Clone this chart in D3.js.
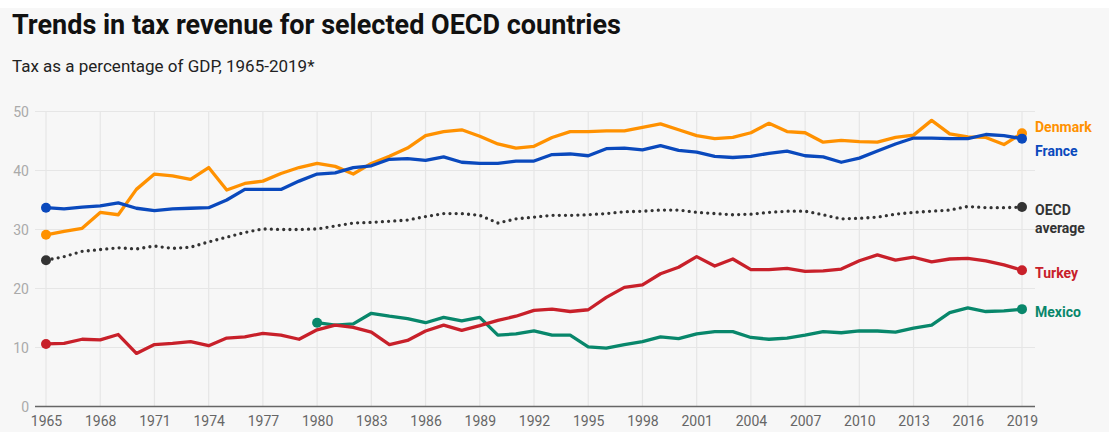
<!DOCTYPE html>
<html>
<head>
<meta charset="utf-8">
<script src="https://cdn.jsdelivr.net/npm/d3@7"></script>
<style>
  body { margin: 0; background: #f7f7f7; font-family: Roboto, "Noto Sans", sans-serif; }
  .canvas { width: 1109px; height: 432px; }
</style>
</head>
<body>
<div class="canvas"></div>
<script>
// years 1965..2019
const years = d3.range(1965, 2020);
const xTicks = d3.range(1965, 2020, 3);
const yTicks = [0, 10, 20, 30, 40, 50];

const denmark = [29.1, 29.7, 30.2, 32.9, 32.5, 36.8, 39.4, 39.1, 38.5, 40.5,
  36.7, 37.8, 38.2, 39.5, 40.5, 41.2, 40.7, 39.4, 41.2, 42.4,
  43.8, 45.9, 46.6, 46.9, 45.8, 44.5, 43.8, 44.1, 45.6, 46.6,
  46.6, 46.7, 46.7, 47.3, 47.9, 46.9, 45.9, 45.4, 45.6, 46.4,
  48.0, 46.6, 46.4, 44.8, 45.1, 44.9, 44.8, 45.6, 46.0, 48.5,
  46.2, 45.7, 45.6, 44.4, 46.3];
const france = [33.7, 33.5, 33.8, 34.0, 34.5, 33.6, 33.2, 33.5, 33.6, 33.7,
  35.0, 36.8, 36.8, 36.8, 38.2, 39.4, 39.6, 40.5, 40.8, 41.9,
  42.0, 41.7, 42.3, 41.4, 41.2, 41.2, 41.6, 41.6, 42.7, 42.8,
  42.5, 43.7, 43.8, 43.5, 44.2, 43.4, 43.1, 42.4, 42.2, 42.4,
  42.9, 43.3, 42.5, 42.3, 41.4, 42.1, 43.3, 44.5, 45.5, 45.5,
  45.4, 45.4, 46.1, 45.9, 45.4];
const oecd = [24.8, 25.4, 26.3, 26.6, 26.9, 26.7, 27.2, 26.8, 27.0, 27.9,
  28.7, 29.5, 30.1, 30.0, 30.0, 30.1, 30.6, 31.1, 31.2, 31.4,
  31.6, 32.2, 32.7, 32.7, 32.4, 31.1, 31.8, 32.1, 32.4, 32.4,
  32.5, 32.7, 33.0, 33.1, 33.3, 33.3, 32.9, 32.7, 32.5, 32.6,
  32.9, 33.1, 33.1, 32.5, 31.8, 31.9, 32.1, 32.6, 32.9, 33.1,
  33.3, 33.9, 33.7, 33.7, 33.8];
const turkey = [10.6, 10.7, 11.4, 11.3, 12.2, 9.0, 10.5, 10.7, 11.0, 10.3,
  11.6, 11.8, 12.4, 12.1, 11.4, 13.0, 13.8, 13.4, 12.6, 10.5,
  11.2, 12.8, 13.8, 12.9, 13.7, 14.6, 15.3, 16.3, 16.5, 16.1,
  16.4, 18.5, 20.2, 20.6, 22.5, 23.6, 25.4, 23.8, 25.0, 23.2,
  23.2, 23.4, 22.9, 23.0, 23.3, 24.7, 25.7, 24.8, 25.3, 24.5,
  25.0, 25.1, 24.7, 24.0, 23.1];
// Mexico has no data before 1980
const mexico = [null, null, null, null, null, null, null, null, null, null,
  null, null, null, null, null, 14.2, 13.8, 14.0, 15.8, 15.3,
  14.9, 14.2, 15.1, 14.5, 15.1, 12.1, 12.3, 12.8, 12.1, 12.1,
  10.1, 9.9, 10.5, 11.0, 11.8, 11.5, 12.3, 12.7, 12.7, 11.7,
  11.4, 11.6, 12.1, 12.7, 12.5, 12.8, 12.8, 12.6, 13.3, 13.8,
  15.9, 16.7, 16.1, 16.2, 16.5];

const series = [
  {name: ['Denmark'], values: denmark, color: '#ff9100', labelY: 127},
  {name: ['France'], values: france, color: '#0a49bd', labelY: 151},
  {name: ['OECD', 'average'], values: oecd, color: '#333333', labelY: 210, dotted: true},
  {name: ['Turkey'], values: turkey, color: '#c8202a', labelY: 273},
  {name: ['Mexico'], values: mexico, color: '#08876b', labelY: 312}
];

const svg = d3.select('.canvas')
  .append('svg')
    .attr('width', 1109)
    .attr('height', 432);

// thin white strip at the very top
svg.append('rect')
  .attr('x', 0).attr('y', 0)
  .attr('width', 1109).attr('height', 8)
  .attr('fill', '#ffffff');

svg.append('text')
  .attr('x', 12).attr('y', 34)
  .attr('font-size', 27).attr('font-weight', 'bold')
  .attr('fill', '#111')
  .text('Trends in tax revenue for selected OECD countries');

svg.append('text')
  .attr('x', 12).attr('y', 72)
  .attr('font-size', 17).attr('fill', '#222')
  .text('Tax as a percentage of GDP, 1965-2019*');

const x = d3.scaleLinear().domain([1965, 2019]).range([46, 1022]);
const y = d3.scaleLinear().domain([0, 50]).range([406.5, 111.5]);

// gridlines
svg.append('g')
  .selectAll('line')
  .data(yTicks.filter(d => d > 0))
  .join('line')
    .attr('x1', 35).attr('x2', 1035)
    .attr('y1', d => y(d)).attr('y2', d => y(d))
    .attr('stroke', '#e6e6e6').attr('stroke-width', 1.2);

svg.append('g')
  .selectAll('line')
  .data(xTicks)
  .join('line')
    .attr('x1', d => x(d)).attr('x2', d => x(d))
    .attr('y1', y(50)).attr('y2', y(0))
    .attr('stroke', '#e6e6e6').attr('stroke-width', 1.2);

// y axis labels
svg.append('g')
  .selectAll('text')
  .data(yTicks)
  .join('text')
    .attr('x', 29).attr('y', d => y(d) + 5)
    .attr('text-anchor', 'end')
    .attr('font-size', 14).attr('fill', '#aaa')
    .text(d => d);

// x axis
const xAxis = svg.append('g')
  .attr('transform', `translate(0,${y(0)})`)
  .call(d3.axisBottom(x).tickValues(xTicks).tickFormat(d3.format('d')).tickSize(0).tickPadding(10));
xAxis.select('.domain').remove();
xAxis.selectAll('text').attr('font-size', 14).attr('fill', '#666').attr('font-family', 'Roboto, sans-serif');
svg.append('line')
  .attr('x1', 35).attr('x2', 1035)
  .attr('y1', y(0)).attr('y2', y(0))
  .attr('stroke', '#666').attr('stroke-width', 1.5);

const line = d3.line()
  .defined(d => d != null)
  .x((d, i) => x(years[i]))
  .y(d => y(d));

// draw OECD first so it sits under country lines
const order = [2, 4, 3, 0, 1];
order.forEach(k => {
  const s = series[k];
  svg.append('path')
    .datum(s.values)
    .attr('fill', 'none')
    .attr('stroke', s.color)
    .attr('stroke-width', 3.3)
    .attr('stroke-linejoin', 'round')
    .attr('stroke-linecap', 'round')
    .attr('stroke-dasharray', s.dotted ? '0 6.2' : null)
    .attr('d', line);

  const pts = s.values.map((v, i) => ({year: years[i], v})).filter(d => d.v != null);
  svg.append('g')
    .selectAll('circle')
    .data([pts[0], pts[pts.length - 1]])
    .join('circle')
      .attr('cx', d => x(d.year))
      .attr('cy', d => y(d.v))
      .attr('r', 5)
      .attr('fill', s.color);
});

// end labels
series.forEach(s => {
  const t = svg.append('text')
    .attr('x', 1035).attr('y', s.labelY + 5)
    .attr('font-size', 14).attr('font-weight', 'bold')
    .attr('fill', s.color);
  s.name.forEach((n, i) => {
    t.append('tspan').attr('x', 1035).attr('dy', i === 0 ? 0 : 18).text(n);
  });
});
</script>
</body>
</html>
